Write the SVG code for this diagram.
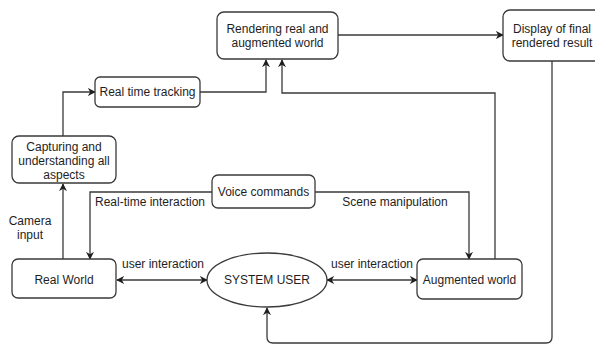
<svg xmlns="http://www.w3.org/2000/svg" width="595" height="344" viewBox="0 0 595 344">
  <defs>
    <style>
      .box { fill: #ffffff; stroke: #3a3a3a; stroke-width: 1.3; }
      .lbl { font-family: "Liberation Sans", Arial, sans-serif; font-size: 12px; fill: #1e1e1e; text-anchor: middle; }
      .edge { fill: none; stroke: #3a3a3a; stroke-width: 1.3; }
    </style>
    <marker id="arr" viewBox="0 0 10 10" refX="9" refY="5" markerWidth="8" markerHeight="8" markerUnits="userSpaceOnUse" orient="auto-start-reverse">
      <path d="M0,0 L10,5 L0,10 L3,5 Z" fill="#1e1e1e"/>
    </marker>
  </defs>
  <rect width="595" height="344" fill="#ffffff"/>

  <!-- connectors -->
  <g id="connectors">
    <!-- rendering -> display -->
    <path class="edge" d="M338,35 H503" marker-end="url(#arr)"/>
    <!-- tracking -> rendering -->
    <path class="edge" d="M200,92 H266 V60" marker-end="url(#arr)"/>
    <!-- augmented -> rendering -->
    <path class="edge" d="M495,259 V93 H282 V60" marker-end="url(#arr)"/>
    <!-- capturing -> tracking -->
    <path class="edge" d="M63,136 V92 H95" marker-end="url(#arr)"/>
    <!-- real world -> capturing (camera input) -->
    <path class="edge" d="M63,259 V184" marker-end="url(#arr)"/>
    <!-- voice -> real world -->
    <path class="edge" d="M212,192 H90 V259" marker-end="url(#arr)"/>
    <!-- voice -> augmented -->
    <path class="edge" d="M315,192 H469 V259" marker-end="url(#arr)"/>
    <!-- real world <-> user -->
    <path class="edge" d="M117,280 H207" marker-start="url(#arr)" marker-end="url(#arr)"/>
    <!-- user <-> augmented -->
    <path class="edge" d="M327,280 H417" marker-start="url(#arr)" marker-end="url(#arr)"/>
    <!-- display -> user -->
    <path class="edge" d="M552,61 V337 Q552,343 546,343 H273 Q267,343 267,337 V308" marker-end="url(#arr)"/>

    <text class="lbl" x="30" y="225">Camera</text>
    <text class="lbl" x="30" y="239">input</text>
    <text class="lbl" x="150" y="206">Real-time interaction</text>
    <text class="lbl" x="395" y="206">Scene manipulation</text>
    <text class="lbl" x="163" y="268">user interaction</text>
    <text class="lbl" x="372" y="268">user interaction</text>
  </g>

  <g id="rendering">
    <rect class="box" x="217" y="12" width="121" height="47" rx="7"/>
    <text class="lbl" x="277.5" y="33">Rendering real and</text>
    <text class="lbl" x="277.5" y="47">augmented world</text>
  </g>

  <g id="display">
    <rect class="box" x="503" y="10" width="100" height="51" rx="7"/>
    <text class="lbl" x="552" y="33">Display of final</text>
    <text class="lbl" x="552" y="47">rendered result</text>
  </g>

  <g id="tracking">
    <rect class="box" x="95" y="77" width="105" height="30" rx="5"/>
    <text class="lbl" x="147.5" y="96">Real time tracking</text>
  </g>

  <g id="capturing">
    <rect class="box" x="12" y="136" width="104" height="47" rx="7"/>
    <text class="lbl" x="64" y="151">Capturing and</text>
    <text class="lbl" x="64" y="165">understanding all</text>
    <text class="lbl" x="64" y="179">aspects</text>
  </g>

  <g id="voice">
    <rect class="box" x="212" y="175" width="103" height="33" rx="6"/>
    <text class="lbl" x="263.5" y="196">Voice commands</text>
  </g>

  <g id="real-world">
    <rect class="box" x="12" y="259" width="104" height="39" rx="6"/>
    <text class="lbl" x="64" y="284">Real World</text>
  </g>

  <g id="system-user">
    <ellipse class="box" cx="267" cy="280" rx="60" ry="27"/>
    <text class="lbl" x="267" y="284">SYSTEM USER</text>
  </g>

  <g id="augmented-world">
    <rect class="box" x="417" y="259" width="105" height="40" rx="6"/>
    <text class="lbl" x="469.5" y="284">Augmented world</text>
  </g>
</svg>
